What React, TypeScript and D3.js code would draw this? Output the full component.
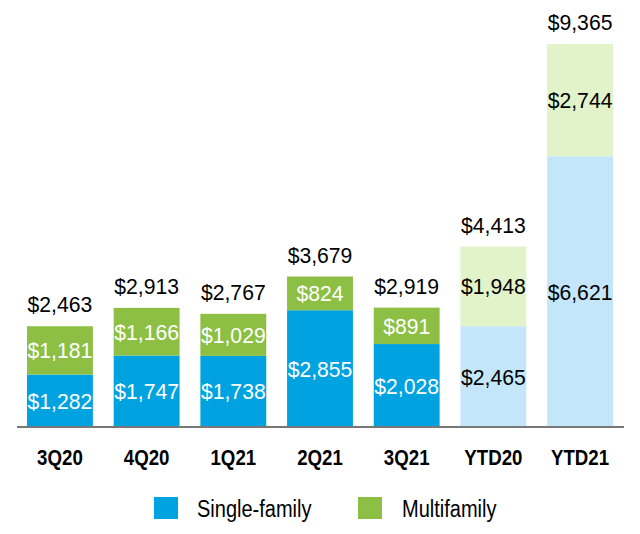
import React from 'react';
import * as d3 from 'd3';

const categories = ['3Q20', '4Q20', '1Q21', '2Q21', '3Q21', 'YTD20', 'YTD21'];
const singleFamily = [1282, 1747, 1738, 2855, 2028, 2465, 6621];
const multifamily = [1181, 1166, 1029, 824, 891, 1948, 2744];
const totals = [2463, 2913, 2767, 3679, 2919, 4413, 9365];
const ytd = ['YTD20', 'YTD21'];

const W = 640;
const H = 534;
const font = "'Liberation Sans', Arial, sans-serif";

const fmt = (v: number) => '$' + d3.format(',')(v);

// narrow text: the source uses a condensed face, so squeeze horizontally
const Narrow = ({ x, y, sx, anchor = 'middle', children, ...rest }: any) => (
  <text
    transform={`translate(${x},${y}) scale(${sx},1)`}
    textAnchor={anchor}
    fontFamily={font}
    {...rest}
  >
    {children}
  </text>
);

const App = () => {
  const x = d3.scaleBand<string>().domain(categories).range([27, 613]).paddingInner(0.24).paddingOuter(0);
  const y = d3.scaleLinear().domain([0, 9365]).range([427, 44]);

  const colors = {
    single: '#00A3E0',
    multi: '#8CBF44',
    singleLight: '#C4E6FB',
    multiLight: '#E2F3CA',
  };

  const vSize = 22.3;
  const vScale = 0.95;

  return (
    <svg width={W} height={H} style={{ position: 'absolute', left: 0, top: 0 }}>
      <rect width={W} height={H} fill="#fff" />
      {categories.map((c, i) => {
        const light = ytd.includes(c);
        const x0 = x(c)!;
        const bw = x.bandwidth();
        const cx = x0 + bw / 2;
        const yS = y(singleFamily[i]);
        const yT = y(singleFamily[i] + multifamily[i]);
        const txtColor = light ? '#000' : '#fff';
        return (
          <g key={c}>
            <rect x={x0} y={yS} width={bw} height={y(0) - yS} fill={light ? colors.singleLight : colors.single} />
            <rect x={x0} y={yT} width={bw} height={yS - yT} fill={light ? colors.multiLight : colors.multi} />
            <Narrow x={cx} y={(yS + y(0)) / 2 + 8} sx={vScale} fontSize={vSize} fill={txtColor}>
              {fmt(singleFamily[i])}
            </Narrow>
            <Narrow x={cx} y={(yT + yS) / 2 + 8} sx={vScale} fontSize={vSize} fill={txtColor}>
              {fmt(multifamily[i])}
            </Narrow>
            <Narrow x={cx} y={y(totals[i]) - 14} sx={vScale} fontSize={vSize} fill="#000">
              {fmt(totals[i])}
            </Narrow>
            <Narrow x={cx} y={465} sx={0.83} fontSize={22.5} fontWeight="bold" fill="#000">
              {c}
            </Narrow>
          </g>
        );
      })}
      <line x1={17} x2={624} y1={427} y2={427} stroke="#777" strokeWidth={2} />
      <g>
        <rect x={154} y={497} width={24} height={22} fill={colors.single} />
        <Narrow x={197} y={517} sx={0.87} anchor="start" fontSize={23} fill="#000">Single-family</Narrow>
        <rect x={358} y={497} width={24} height={22} fill={colors.multi} />
        <Narrow x={402} y={517} sx={0.87} anchor="start" fontSize={23} fill="#000">Multifamily</Narrow>
      </g>
    </svg>
  );
};

export default App;
